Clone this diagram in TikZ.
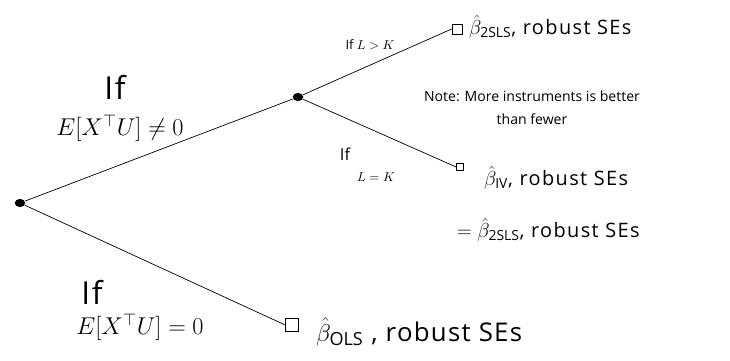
\documentclass[tikz,border=0pt]{standalone}
\usepackage{fontspec}
\setmainfont{Open Sans}
\usetikzlibrary{positioning, calc, shapes.geometric}
\begin{document}
\begin{tikzpicture}[
  x=0.03cm, y=-0.03cm,
  dot/.style={ellipse, fill, inner sep=0pt, minimum width=9pt, minimum height=7pt},
  leaf/.style={draw, semithick, inner sep=0pt, minimum size=#1},
  branch/.style={draw, semithick},
  big/.style={font=\fontsize{17}{20}\selectfont\addfontfeatures{LetterSpace=7}},
  bigger/.style={font=\fontsize{22}{26}\selectfont\addfontfeatures{LetterSpace=5}},
  huge/.style={font=\fontsize{21}{25}\selectfont},
  iflab/.style={font=\fontsize{27}{30}\selectfont\addfontfeatures{LetterSpace=6}},
  small/.style={font=\fontsize{11}{13}\selectfont},
  note/.style={font=\fontsize{12}{19.5}\selectfont, align=center}
  ]
  \useasboundingbox (0,0) rectangle (730,360);
  % decision points
  \node[dot] (root) at (20,203) {};
  \node[dot] (mid) at (298,97) {};
  % outcomes
  \node[leaf=8.5pt] (tsls) at (457,29) {};
  \node[leaf=6pt] (iv) at (460,167) {};
  \node[leaf=11pt] (ols) at (292,325) {};
  \draw[branch] (root) -- (mid);
  \draw[branch] (root) -- (ols.west);
  \draw[branch] (mid) -- (tsls.west);
  \draw[branch] (mid) -- (iv.west);
  % outcome labels
  \node[big, anchor=west] (tslslab) at (465,27) {$\hat\beta_{\mathrm{2SLS}}$, robust SEs};
  \node[big, anchor=west] (ivlab) at (480,178) {$\hat\beta_{\mathrm{IV}}$, robust SEs};
  \node[big, anchor=west] (eqlab) at (453,230) {$=\hat\beta_{\mathrm{2SLS}}$, robust SEs};
  \node[bigger, anchor=west] (olslab) at (312,332) {$\hat\beta_{\mathrm{OLS}}$ , robust SEs};
  % branch conditions
  \node[iflab] (ifa) at (115,87) {If};
  \node[huge] (conda) at (120,128) {$E[X^{\top}U]\neq 0$};
  \node[small] (ifb) at (370,45) {If $L>K$};
  \node[font=\fontsize{14}{16}\selectfont] (ifc) at (345,154) {If};
  \node[small] (condc) at (376,177) {$L=K$};
  \node[iflab] (ifd) at (92,292) {If};
  \node[huge] (condd) at (140,327) {$E[X^{\top}U]=0$};
  \node[note] (notelab) at (532,108) {Note: More instruments is better\\than fewer};
\end{tikzpicture}
\end{document}
